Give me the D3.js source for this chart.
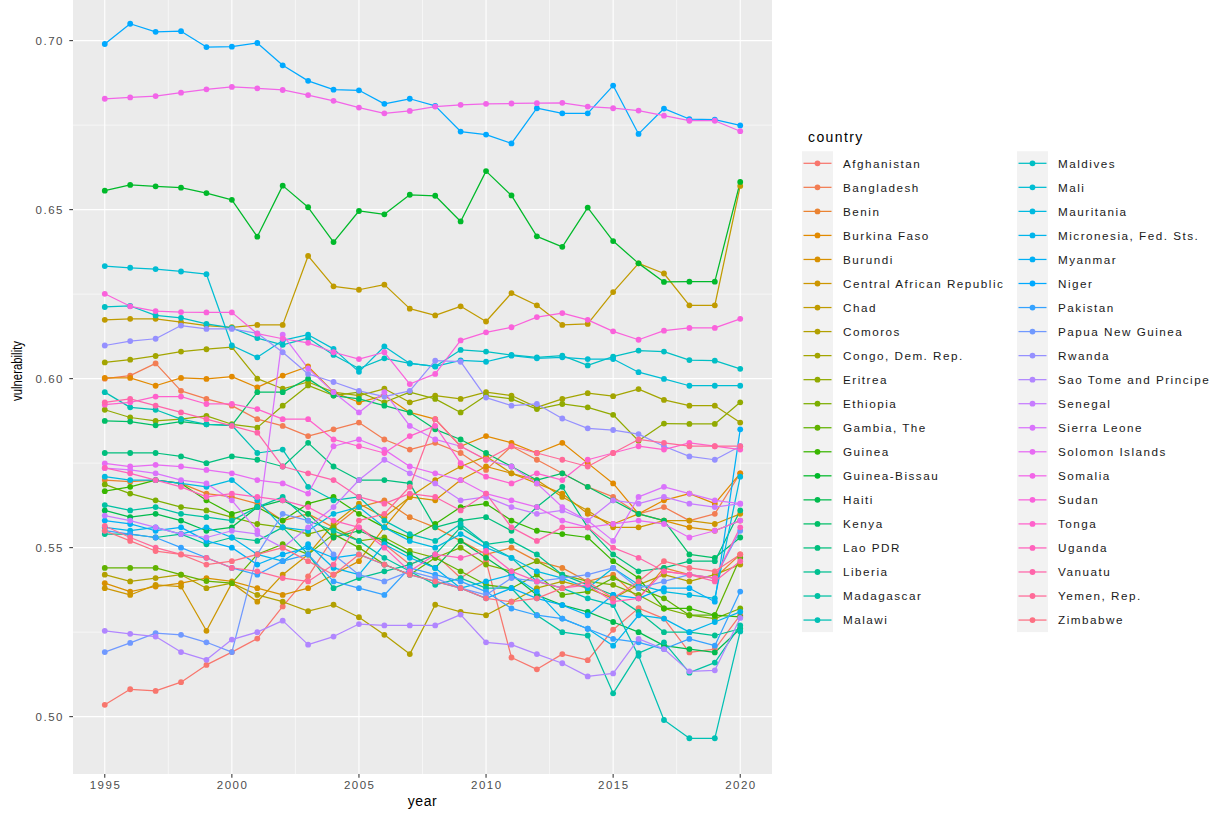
<!DOCTYPE html>
<html>
<head>
<meta charset="utf-8">
<script src="https://cdn.jsdelivr.net/npm/d3@7"></script>
<style>
  body { margin: 0; background: #fff; }
  text { font-family: "Liberation Sans", Arial, sans-serif; }
</style>
</head>
<body>
<svg id="chart" width="1227" height="815"></svg>
<script>
// ---- data -------------------------------------------------------------
const years = d3.range(1995, 2021);

const countries = [
  "Afghanistan", "Bangladesh", "Benin", "Burkina Faso", "Burundi",
  "Central African Republic", "Chad", "Comoros", "Congo, Dem. Rep.", "Eritrea",
  "Ethiopia", "Gambia, The", "Guinea", "Guinea-Bissau", "Haiti",
  "Kenya", "Lao PDR", "Liberia", "Madagascar", "Malawi",
  "Maldives", "Mali", "Mauritania", "Micronesia, Fed. Sts.", "Myanmar",
  "Niger", "Pakistan", "Papua New Guinea", "Rwanda", "Sao Tome and Principe",
  "Senegal", "Sierra Leone", "Solomon Islands", "Somalia", "Sudan",
  "Tonga", "Uganda", "Vanuatu", "Yemen, Rep.", "Zimbabwe"
];

// vulnerability score per country, one value per year 1995-2020
const vulnerability = [
  /* Afghanistan */ [0.5035,0.5081,0.5076,0.5102,0.5153,0.5191,0.5231,0.5326,0.5415,0.5530,0.5560,0.5510,0.5450,0.5480,0.5410,0.5460,0.5175,0.5140,0.5185,0.5167,0.5257,0.5321,0.5290,0.5190,0.5200,0.5300],
  /* Bangladesh */ [0.6000,0.6009,0.6045,0.5964,0.5940,0.5920,0.5880,0.5860,0.5830,0.5850,0.5870,0.5820,0.5790,0.5810,0.5780,0.5730,0.5800,0.5760,0.5720,0.5680,0.5650,0.5600,0.5620,0.5580,0.5600,0.5720],
  /* Benin */ [0.5700,0.5695,0.5700,0.5690,0.5660,0.5650,0.5630,0.5580,0.5600,0.5560,0.5620,0.5640,0.5590,0.5560,0.5520,0.5480,0.5500,0.5460,0.5440,0.5400,0.5420,0.5350,0.5440,0.5420,0.5410,0.5480],
  /* Burkina Faso */ [0.6002,0.6002,0.5979,0.6002,0.5999,0.6006,0.5974,0.6009,0.6036,0.5960,0.5930,0.5950,0.5900,0.5880,0.5800,0.5830,0.5810,0.5780,0.5810,0.5750,0.5690,0.5600,0.5640,0.5660,0.5630,0.5720],
  /* Burundi */ [0.5395,0.5370,0.5385,0.5395,0.5410,0.5400,0.5380,0.5360,0.5380,0.5420,0.5460,0.5560,0.5650,0.5640,0.5700,0.5740,0.5720,0.5690,0.5660,0.5600,0.5570,0.5600,0.5580,0.5560,0.5550,0.5580],
  /* Central African Republic */ [0.5380,0.5360,0.5390,0.5385,0.5254,0.5395,0.5340,0.5420,0.5480,0.5570,0.5630,0.5590,0.5650,0.5700,0.5740,0.5770,0.5720,0.5700,0.5650,0.5610,0.5560,0.5560,0.5580,0.5580,0.5570,0.5600],
  /* Chad */ [0.6174,0.6177,0.6177,0.6167,0.6157,0.6152,0.6159,0.6159,0.6363,0.6273,0.6263,0.6278,0.6207,0.6187,0.6214,0.6169,0.6253,0.6217,0.6159,0.6162,0.6256,0.6341,0.6311,0.6217,0.6217,0.6570],
  /* Comoros */ [0.5420,0.5400,0.5410,0.5420,0.5380,0.5395,0.5360,0.5340,0.5312,0.5331,0.5294,0.5242,0.5185,0.5331,0.5310,0.5300,0.5340,0.5380,0.5400,0.5380,0.5350,0.5390,0.5420,0.5400,0.5420,0.5450],
  /* Congo, Dem. Rep. */ [0.6048,0.6056,0.6067,0.6080,0.6087,0.6093,0.6000,0.5970,0.5990,0.5960,0.5950,0.5970,0.5930,0.5950,0.5940,0.5960,0.5950,0.5915,0.5940,0.5957,0.5948,0.5969,0.5937,0.5920,0.5920,0.5870],
  /* Eritrea */ [0.5908,0.5885,0.5875,0.5880,0.5890,0.5865,0.5855,0.5920,0.5980,0.5950,0.5960,0.5930,0.5960,0.5940,0.5900,0.5950,0.5940,0.5910,0.5925,0.5915,0.5893,0.5816,0.5867,0.5866,0.5866,0.5930],
  /* Ethiopia */ [0.5687,0.5660,0.5640,0.5620,0.5610,0.5590,0.5570,0.5560,0.5540,0.5560,0.5520,0.5530,0.5490,0.5470,0.5500,0.5450,0.5430,0.5460,0.5420,0.5400,0.5390,0.5360,0.5320,0.5300,0.5290,0.5320],
  /* Gambia, The */ [0.5440,0.5440,0.5440,0.5420,0.5401,0.5395,0.5480,0.5510,0.5480,0.5540,0.5500,0.5450,0.5420,0.5470,0.5430,0.5390,0.5380,0.5420,0.5360,0.5370,0.5410,0.5380,0.5350,0.5300,0.5300,0.5470],
  /* Guinea */ [0.5667,0.5680,0.5700,0.5690,0.5640,0.5600,0.5620,0.5580,0.5630,0.5650,0.5600,0.5560,0.5530,0.5570,0.5620,0.5630,0.5580,0.5550,0.5540,0.5530,0.5460,0.5410,0.5320,0.5320,0.5300,0.5295],
  /* Guinea-Bissau */ [0.6556,0.6573,0.6569,0.6565,0.6549,0.6529,0.6420,0.6571,0.6507,0.6404,0.6496,0.6486,0.6544,0.6541,0.6465,0.6614,0.6542,0.6421,0.6390,0.6506,0.6407,0.6341,0.6286,0.6287,0.6287,0.6582],
  /* Haiti */ [0.5610,0.5590,0.5600,0.5580,0.5550,0.5560,0.5620,0.5640,0.5600,0.5530,0.5550,0.5520,0.5480,0.5440,0.5520,0.5470,0.5420,0.5360,0.5330,0.5310,0.5280,0.5250,0.5210,0.5200,0.5190,0.5260],
  /* Kenya */ [0.5875,0.5873,0.5862,0.5873,0.5865,0.5862,0.5960,0.5960,0.6000,0.5950,0.5940,0.5920,0.5900,0.5850,0.5820,0.5780,0.5740,0.5700,0.5720,0.5680,0.5640,0.5600,0.5580,0.5480,0.5470,0.5530],
  /* Lao PDR */ [0.5780,0.5780,0.5780,0.5770,0.5750,0.5770,0.5760,0.5740,0.5810,0.5740,0.5700,0.5700,0.5690,0.5560,0.5580,0.5590,0.5550,0.5620,0.5680,0.5560,0.5480,0.5430,0.5440,0.5460,0.5460,0.5610],
  /* Liberia */ [0.5540,0.5540,0.5530,0.5540,0.5510,0.5530,0.5520,0.5560,0.5480,0.5380,0.5410,0.5430,0.5450,0.5480,0.5560,0.5510,0.5520,0.5480,0.5420,0.5390,0.5360,0.5310,0.5250,0.5250,0.5240,0.5260],
  /* Madagascar */ [0.5626,0.5610,0.5620,0.5600,0.5590,0.5580,0.5620,0.5650,0.5580,0.5550,0.5520,0.5470,0.5430,0.5390,0.5410,0.5380,0.5380,0.5300,0.5250,0.5240,0.5069,0.5188,0.5220,0.5130,0.5160,0.5270],
  /* Malawi */ [0.5960,0.5915,0.5908,0.5880,0.5865,0.5862,0.5780,0.5790,0.5680,0.5640,0.5650,0.5580,0.5540,0.5520,0.5570,0.5510,0.5470,0.5400,0.5380,0.5350,0.5330,0.5180,0.4990,0.4936,0.4936,0.5252],
  /* Maldives */ [0.6212,0.6215,0.6187,0.6180,0.6162,0.6150,0.6120,0.6100,0.6120,0.6070,0.6030,0.6060,0.6045,0.6036,0.6085,0.6080,0.6070,0.6063,0.6068,0.6039,0.6065,0.6083,0.6080,0.6055,0.6053,0.6029],
  /* Mali */ [0.6333,0.6328,0.6324,0.6317,0.6309,0.6098,0.6063,0.6113,0.6130,0.6088,0.6020,0.6095,0.6045,0.6036,0.6054,0.6050,0.6068,0.6060,0.6063,0.6058,0.6058,0.6019,0.5999,0.5979,0.5979,0.5979],
  /* Mauritania */ [0.5710,0.5700,0.5700,0.5690,0.5680,0.5700,0.5640,0.5560,0.5550,0.5600,0.5620,0.5560,0.5520,0.5500,0.5540,0.5500,0.5470,0.5430,0.5410,0.5380,0.5440,0.5390,0.5370,0.5360,0.5350,0.5710],
  /* Micronesia, Fed. Sts. */ [0.5560,0.5550,0.5560,0.5540,0.5560,0.5530,0.5480,0.5460,0.5510,0.5440,0.5420,0.5510,0.5470,0.5440,0.5380,0.5400,0.5420,0.5370,0.5290,0.5260,0.5210,0.5300,0.5290,0.5250,0.5280,0.5310],
  /* Myanmar */ [0.5580,0.5570,0.5550,0.5560,0.5520,0.5500,0.5450,0.5480,0.5500,0.5470,0.5480,0.5450,0.5420,0.5400,0.5380,0.5350,0.5380,0.5350,0.5330,0.5300,0.5360,0.5350,0.5380,0.5380,0.5340,0.5850],
  /* Niger */ [0.6990,0.7050,0.7026,0.7028,0.6981,0.6982,0.6993,0.6927,0.6881,0.6855,0.6853,0.6813,0.6828,0.6807,0.6731,0.6722,0.6696,0.6800,0.6785,0.6785,0.6867,0.6724,0.6799,0.6768,0.6766,0.6749],
  /* Pakistan */ [0.5550,0.5540,0.5530,0.5500,0.5470,0.5440,0.5420,0.5460,0.5480,0.5400,0.5380,0.5360,0.5440,0.5420,0.5400,0.5370,0.5320,0.5300,0.5290,0.5260,0.5230,0.5220,0.5200,0.5230,0.5210,0.5370],
  /* Papua New Guinea */ [0.5191,0.5218,0.5247,0.5242,0.5220,0.5191,0.5480,0.5600,0.5580,0.5480,0.5420,0.5400,0.5430,0.5410,0.5380,0.5360,0.5410,0.5400,0.5410,0.5420,0.5440,0.5380,0.5400,0.5420,0.5410,0.5550],
  /* Rwanda */ [0.6098,0.6111,0.6118,0.6157,0.6147,0.6147,0.6134,0.6078,0.6014,0.5990,0.5964,0.5947,0.5964,0.6053,0.6050,0.5944,0.5920,0.5925,0.5882,0.5853,0.5848,0.5836,0.5800,0.5770,0.5760,0.5800],
  /* Sao Tome and Principe */ [0.5254,0.5245,0.5237,0.5191,0.5168,0.5228,0.5250,0.5284,0.5213,0.5237,0.5274,0.5270,0.5270,0.5270,0.5302,0.5220,0.5213,0.5185,0.5158,0.5119,0.5128,0.5230,0.5200,0.5134,0.5137,0.5292],
  /* Senegal */ [0.5595,0.5580,0.5560,0.5540,0.5530,0.5550,0.5540,0.5500,0.5560,0.5620,0.5700,0.5760,0.5720,0.5690,0.5640,0.5650,0.5620,0.5600,0.5610,0.5580,0.5640,0.5630,0.5650,0.5630,0.5620,0.5630],
  /* Sierra Leone */ [0.5735,0.5730,0.5720,0.5700,0.5690,0.5640,0.5550,0.6130,0.6030,0.5960,0.5900,0.5960,0.5860,0.5820,0.5800,0.5760,0.5740,0.5690,0.5620,0.5580,0.5520,0.5650,0.5680,0.5660,0.5640,0.5630],
  /* Solomon Islands */ [0.5749,0.5740,0.5745,0.5740,0.5730,0.5720,0.5700,0.5690,0.5660,0.5800,0.5820,0.5790,0.5740,0.5720,0.5700,0.5660,0.5640,0.5620,0.5580,0.5560,0.5570,0.5580,0.5570,0.5530,0.5550,0.5580],
  /* Somalia */ [0.6828,0.6832,0.6836,0.6846,0.6856,0.6863,0.6859,0.6854,0.6839,0.6822,0.6802,0.6785,0.6792,0.6805,0.6810,0.6813,0.6814,0.6815,0.6816,0.6805,0.6800,0.6793,0.6778,0.6763,0.6763,0.6732],
  /* Sudan */ [0.6251,0.6214,0.6200,0.6197,0.6196,0.6196,0.6133,0.6118,0.6106,0.6078,0.6058,0.6078,0.5984,0.6014,0.6113,0.6137,0.6152,0.6182,0.6194,0.6174,0.6140,0.6115,0.6142,0.6150,0.6150,0.6177],
  /* Tonga */ [0.5923,0.5930,0.5947,0.5947,0.5925,0.5925,0.5910,0.5880,0.5880,0.5820,0.5800,0.5780,0.5830,0.5860,0.5750,0.5710,0.5690,0.5720,0.5700,0.5760,0.5780,0.5800,0.5790,0.5810,0.5800,0.5790],
  /* Uganda */ [0.5736,0.5720,0.5700,0.5680,0.5650,0.5660,0.5650,0.5640,0.5620,0.5580,0.5560,0.5500,0.5430,0.5480,0.5470,0.5490,0.5430,0.5400,0.5380,0.5390,0.5340,0.5350,0.5430,0.5420,0.5410,0.5560],
  /* Vanuatu */ [0.5930,0.5940,0.5920,0.5900,0.5880,0.5860,0.5840,0.5740,0.5720,0.5700,0.5650,0.5630,0.5660,0.5650,0.5610,0.5660,0.5560,0.5520,0.5560,0.5560,0.5500,0.5470,0.5430,0.5420,0.5400,0.5460],
  /* Yemen, Rep. */ [0.5564,0.5530,0.5500,0.5480,0.5470,0.5440,0.5430,0.5410,0.5400,0.5450,0.5580,0.5600,0.5680,0.5880,0.5800,0.5760,0.5800,0.5780,0.5760,0.5740,0.5780,0.5820,0.5810,0.5800,0.5800,0.5800],
  /* Zimbabwe */ [0.5550,0.5520,0.5490,0.5480,0.5450,0.5460,0.5480,0.5500,0.5460,0.5420,0.5480,0.5450,0.5420,0.5400,0.5380,0.5350,0.5340,0.5350,0.5380,0.5400,0.5350,0.5400,0.5460,0.5440,0.5430,0.5480]
];

const xTickValues = [1995, 2000, 2005, 2010, 2015, 2020];
const yTickValues = [0.50, 0.55, 0.60, 0.65, 0.70];

// ---- colours: evenly spaced hues in polar CIE-Luv (L = 65, C = 100) --------
function polarLuvHex(h, c, l) {
  const hr = h * Math.PI / 180;
  const U = c * Math.cos(hr), V = c * Math.sin(hr);
  const Xn = 95.047, Yn = 100, Zn = 108.883;
  const un = 4 * Xn / (Xn + 15 * Yn + 3 * Zn);
  const vn = 9 * Yn / (Xn + 15 * Yn + 3 * Zn);
  const Y = l > 8 ? Yn * Math.pow((l + 16) / 116, 3) : Yn * l / 903.3;
  const up = U / (13 * l) + un, vp = V / (13 * l) + vn;
  const X = 9 * Y * up / (4 * vp);
  const Z = -X / 3 - 5 * Y + 3 * Y / vp;
  const lin = [
    ( 3.240479 * X - 1.537150 * Y - 0.498535 * Z) / 100,
    (-0.969256 * X + 1.875992 * Y + 0.041556 * Z) / 100,
    ( 0.055648 * X - 0.204043 * Y + 1.057311 * Z) / 100
  ];
  const gam = v => v <= 0.0031308 ? 12.92 * v : 1.055 * Math.pow(v, 1 / 2.4) - 0.055;
  const ch = lin.map(v => Math.round(255 * Math.max(0, Math.min(1, gam(v)))));
  return d3.rgb(ch[0], ch[1], ch[2]).formatHex();
}
const n = countries.length;
const hues = d3.range(n).map(i => 15 + 360 * i / n);
const colour = d3.scaleOrdinal(countries, hues.map(h => polarLuvHex(h, 100, 65)));

// ---- layout -----------------------------------------------------------
const svg = d3.select("#chart");
svg.append("rect").attr("width", 1227).attr("height", 815).attr("fill", "#fff");

const panel = { left: 73, right: 772, top: -12, bottom: 774 };

const allVals = vulnerability.flat();
const [vMin, vMax] = d3.extent(allVals);
const vPad = 0.05 * (vMax - vMin);
const x = d3.scaleLinear().domain([1995 - 1.25, 2020 + 1.25]).range([panel.left, panel.right]);
const y = d3.scaleLinear().domain([vMin - vPad, vMax + vPad]).range([panel.bottom, panel.top]);

svg.append("rect")
  .attr("x", panel.left).attr("y", panel.top)
  .attr("width", panel.right - panel.left).attr("height", panel.bottom - panel.top)
  .attr("fill", "#EBEBEB");

const grid = svg.append("g");
// minor grid
const xMinor = xTickValues.slice(0, -1).map(v => v + 2.5);
const yMinor = [0.525, 0.575, 0.625, 0.675];
grid.selectAll(".xmin").data(xMinor).join("line")
  .attr("x1", d => x(d)).attr("x2", d => x(d))
  .attr("y1", panel.top).attr("y2", panel.bottom)
  .attr("stroke", "#fff").attr("stroke-width", 0.55);
grid.selectAll(".ymin").data(yMinor).join("line")
  .attr("y1", d => y(d)).attr("y2", d => y(d))
  .attr("x1", panel.left).attr("x2", panel.right)
  .attr("stroke", "#fff").attr("stroke-width", 0.55);
// major grid
grid.selectAll(".xmaj").data(xTickValues).join("line")
  .attr("x1", d => x(d)).attr("x2", d => x(d))
  .attr("y1", panel.top).attr("y2", panel.bottom)
  .attr("stroke", "#fff").attr("stroke-width", 1.1);
grid.selectAll(".ymaj").data(yTickValues).join("line")
  .attr("y1", d => y(d)).attr("y2", d => y(d))
  .attr("x1", panel.left).attr("x2", panel.right)
  .attr("stroke", "#fff").attr("stroke-width", 1.1);

// ---- series -----------------------------------------------------------
const seriesData = countries.map((c, i) => ({
  country: c,
  values: years.map((yr, j) => ({ year: yr, v: vulnerability[i][j] }))
}));

const line = d3.line().x(d => x(d.year)).y(d => y(d.v));
const plot = svg.append("g");
plot.selectAll("path.series").data(seriesData).join("path")
  .attr("class", "series")
  .attr("d", d => line(d.values))
  .attr("fill", "none")
  .attr("stroke", d => colour(d.country))
  .attr("stroke-width", 1.25)
  .attr("stroke-linejoin", "round");

seriesData.forEach(s => {
  plot.append("g").selectAll("circle").data(s.values).join("circle")
    .attr("cx", d => x(d.year)).attr("cy", d => y(d.v))
    .attr("r", 2.9).attr("fill", colour(s.country));
});

// ---- axes -------------------------------------------------------------
const tickCol = "#333333", labCol = "#4D4D4D";
const axes = svg.append("g");
axes.selectAll(".xt").data(xTickValues).join("line")
  .attr("x1", d => x(d)).attr("x2", d => x(d))
  .attr("y1", panel.bottom).attr("y2", panel.bottom + 3.7)
  .attr("stroke", tickCol).attr("stroke-width", 1.05);
axes.selectAll(".xl").data(xTickValues).join("text")
  .attr("x", d => x(d) + 0.75).attr("y", panel.bottom + 15)
  .attr("text-anchor", "middle").attr("font-size", 11.5)
  .attr("letter-spacing", 1.5).attr("fill", labCol)
  .text(d => d);
axes.selectAll(".yt").data(yTickValues).join("line")
  .attr("x1", panel.left - 3.7).attr("x2", panel.left)
  .attr("y1", d => y(d)).attr("y2", d => y(d))
  .attr("stroke", tickCol).attr("stroke-width", 1.05);
axes.selectAll(".yl").data(yTickValues).join("text")
  .attr("x", panel.left - 9).attr("y", d => y(d))
  .attr("dy", "0.36em")
  .attr("text-anchor", "end").attr("font-size", 11.5)
  .attr("letter-spacing", 1.5).attr("fill", labCol)
  .text(d => d3.format(".2f")(d));

svg.append("text")
  .attr("x", (panel.left + panel.right) / 2).attr("y", 806)
  .attr("text-anchor", "middle").attr("font-size", 14)
  .attr("letter-spacing", 0.6).attr("fill", "#000")
  .text("year");
svg.append("text")
  .attr("transform", "translate(22,371) rotate(-90)")
  .attr("text-anchor", "middle").attr("font-size", 14)
  .attr("textLength", 60).attr("lengthAdjust", "spacingAndGlyphs")
  .attr("fill", "#000")
  .text("vulnerability");

// ---- legend -----------------------------------------------------------
const legend = svg.append("g");
legend.append("text")
  .attr("x", 808).attr("y", 142)
  .attr("font-size", 14).attr("letter-spacing", 1.4).attr("fill", "#000")
  .text("country");

const perCol = 20, rowStep = 24.04, row0 = 163.3;
const cols = [{ keyX: 802, textX: 843 }, { keyX: 1017, textX: 1058 }];
cols.forEach((c, ci) => {
  const items = countries.slice(ci * perCol, (ci + 1) * perCol);
  legend.append("rect")
    .attr("x", c.keyX).attr("y", row0 - rowStep / 2)
    .attr("width", 31).attr("height", rowStep * items.length)
    .attr("fill", "#F2F2F2");
  const g = legend.append("g").selectAll("g").data(items).join("g")
    .attr("transform", (d, i) => `translate(0,${row0 + i * rowStep})`);
  g.append("line")
    .attr("x1", c.keyX + 1.5).attr("x2", c.keyX + 29.5)
    .attr("stroke", d => colour(d)).attr("stroke-width", 1.25);
  g.append("circle")
    .attr("cx", c.keyX + 15.5).attr("r", 2.9)
    .attr("fill", d => colour(d));
  g.append("text")
    .attr("x", c.textX).attr("dy", "0.36em")
    .attr("font-size", 11.7).attr("letter-spacing", 1.5).attr("fill", "#1a1a1a")
    .text(d => d);
});
</script>
</body>
</html>
